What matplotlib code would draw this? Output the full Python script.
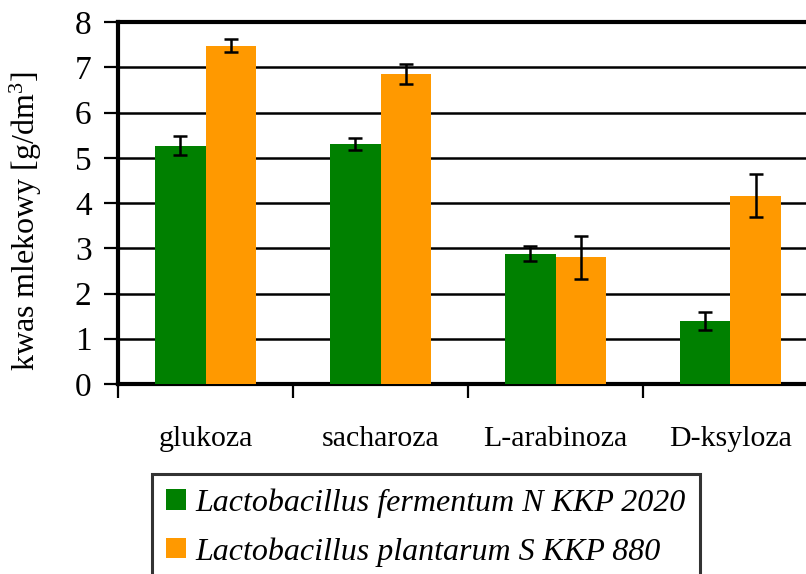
import matplotlib
matplotlib.use('Agg')
import matplotlib.pyplot as plt
import numpy as np

plt.rcParams['font.family'] = ['Liberation Serif', 'DejaVu Serif']
plt.rcParams['mathtext.fontset'] = 'custom'
plt.rcParams['mathtext.rm'] = 'Liberation Serif'

categories = ['glukoza', 'sacharoza', 'L-arabinoza', 'D-ksyloza']
fermentum = [5.27, 5.30, 2.88, 1.40]
fermentum_err = [0.20, 0.13, 0.16, 0.20]
plantarum = [7.48, 6.85, 2.80, 4.16]
plantarum_err = [0.15, 0.22, 0.47, 0.48]
series_names = ['Lactobacillus fermentum N KKP 2020',
                'Lactobacillus plantarum S KKP 880']
yticks = [0, 1, 2, 3, 4, 5, 6, 7, 8]

fig = plt.figure(figsize=(8.06, 5.74), dpi=100)
# prawa krawedz wykresu wychodzi poza obraz
ax = fig.add_axes([118 / 806, 1 - 384 / 574, 700 / 806, 362 / 574])

x = np.arange(len(categories))
w = 0.29
err_kw = dict(ecolor='black', elinewidth=1.8, capsize=5, capthick=1.8)
b1 = ax.bar(x - w / 2, fermentum, w, yerr=fermentum_err, color='#008000',
            error_kw=err_kw, zorder=3, label=series_names[0])
b2 = ax.bar(x + w / 2, plantarum, w, yerr=plantarum_err, color='#FF9900',
            error_kw=err_kw, zorder=3, label=series_names[1])

ax.set_xlim(-0.5, len(categories) - 0.5)
ax.set_ylim(0, 8)
ax.set_yticks(yticks)
ax.yaxis.grid(True, color='black', linewidth=1.8, zorder=0)
ax.set_axisbelow(True)

# podzialki miedzy kategoriami, podpisy bez kresek
ax.set_xticks(np.arange(len(categories) + 1) - 0.5)
ax.set_xticklabels([])
ax.set_xticks(x, minor=True)
ax.set_xticklabels(categories, minor=True, fontsize=21.5)
ax.tick_params(axis='x', which='minor', length=0, pad=30)
ax.tick_params(axis='x', which='major', length=10, width=1.6, direction='out')
ax.tick_params(axis='y', length=10, width=1.6, direction='out',
               labelsize=24, pad=9)

for side in ['left', 'bottom', 'top']:
    ax.spines[side].set_linewidth(3)
ax.spines['right'].set_visible(False)

ax.set_ylabel(r'kwas mlekowy [g/dm$\mathregular{^3}$]', fontsize=23)
ax.yaxis.set_label_coords(-0.105, 0.45)

leg = fig.legend(handles=[b1, b2], loc='upper left',
                 bbox_to_anchor=(152 / 806, 1 - 474 / 574),
                 prop={'style': 'italic', 'size': 23},
                 frameon=True, fancybox=False, edgecolor='black',
                 handlelength=0.6, handleheight=0.6, handletextpad=0.3,
                 borderpad=0.45, labelspacing=0.6, borderaxespad=0)
leg.get_frame().set_linewidth(2.2)

fig.savefig('out.png', dpi=100)
